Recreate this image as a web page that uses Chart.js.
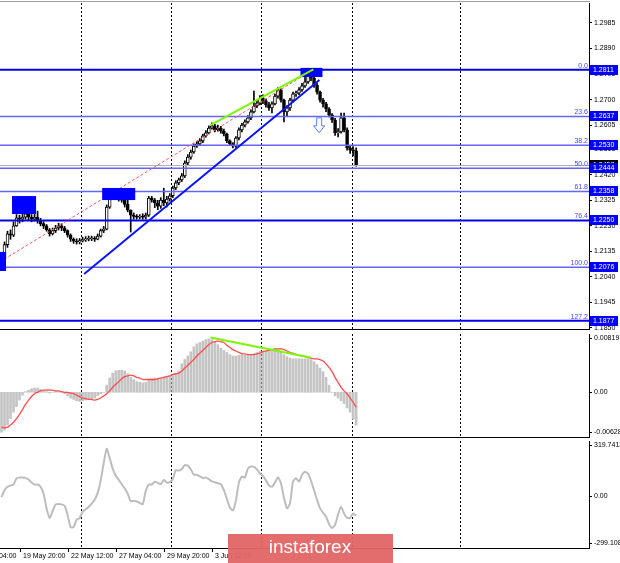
<!DOCTYPE html>
<html>
<head>
<meta charset="utf-8">
<script src="https://cdn.jsdelivr.net/npm/chart.js@4.4.1/dist/chart.umd.min.js"></script>
<style>
  html, body { margin: 0; padding: 0; background: #fff; }
  #wrap { position: relative; width: 620px; height: 563px; overflow: hidden; background: #fff; }
  canvas { position: absolute; left: 0; }
  #cMain { top: 0; }
  #cMacd { top: 330px; }
  #cCci { top: 438px; }
</style>
</head>
<body>
<div id="wrap">
  <canvas id="cMain" width="620" height="330"></canvas>
  <canvas id="cMacd" width="620" height="108"></canvas>
  <canvas id="cCci" width="620" height="125"></canvas>
</div>
<script>
// ---- data (GBP/USD H4) ----
const firstOpen = 1.2095;
const closes = [
  1.2110, 1.2160, 1.2200, 1.2195, 1.2230, 1.2260, 1.2255, 1.2262, 1.2275, 1.2262,
  1.2255, 1.2262, 1.2250, 1.2238, 1.2230, 1.2215, 1.2200, 1.2212, 1.2222, 1.2230,
  1.2222, 1.2212, 1.2196, 1.2180, 1.2173, 1.2170, 1.2175, 1.2178, 1.2180, 1.2182,
  1.2184, 1.2180, 1.2192, 1.2212, 1.2218, 1.2300, 1.2335, 1.2342, 1.2340, 1.2330,
  1.2326, 1.2310, 1.2288, 1.2270, 1.2265, 1.2262, 1.2266, 1.2262, 1.2270, 1.2333,
  1.2326, 1.2315, 1.2303, 1.2326, 1.2315, 1.2330, 1.2342, 1.2371, 1.2390, 1.2401,
  1.2416, 1.2464, 1.2486, 1.2505, 1.2527, 1.2535, 1.2546, 1.2565, 1.2576, 1.2594,
  1.2602, 1.2587, 1.2594, 1.2583, 1.2572, 1.2546, 1.2535, 1.2527, 1.2557, 1.2587,
  1.2605, 1.2617, 1.2632, 1.2654, 1.2676, 1.2687, 1.2706, 1.2695, 1.2680, 1.2669,
  1.2684, 1.2713, 1.2736, 1.2698, 1.2654, 1.2669, 1.2698, 1.2721, 1.2724, 1.2736,
  1.2751, 1.2766, 1.2795, 1.2780, 1.2754, 1.2728, 1.2698, 1.2684, 1.2665, 1.2643,
  1.2624, 1.2576, 1.2580, 1.2632, 1.2587, 1.2520, 1.2512, 1.2509, 1.2457
];
const highs = [
  1.2120, 1.2170, 1.2210, 1.2215, 1.2245, 1.2272, 1.2270, 1.2280, 1.2293, 1.2282,
  1.2272, 1.2275, 1.2285, 1.2258, 1.2245, 1.2235, 1.2220, 1.2222, 1.2232, 1.2240,
  1.2238, 1.2228, 1.2215, 1.2200, 1.2185, 1.2182, 1.2183, 1.2188, 1.2190, 1.2192,
  1.2192, 1.2190, 1.2200, 1.2218, 1.2228, 1.2308, 1.2342, 1.2352, 1.2350, 1.2345,
  1.2338, 1.2332, 1.2335, 1.2290, 1.2278, 1.2272, 1.2272, 1.2275, 1.2278, 1.2340,
  1.2340, 1.2332, 1.2325, 1.2335, 1.2370, 1.2340, 1.2350, 1.2378, 1.2398, 1.2408,
  1.2425, 1.2472, 1.2495, 1.2512, 1.2535, 1.2545, 1.2555, 1.2572, 1.2585, 1.2602,
  1.2613, 1.2608, 1.2605, 1.2600, 1.2590, 1.2575, 1.2550, 1.2540, 1.2562, 1.2595,
  1.2612, 1.2625, 1.2640, 1.2662, 1.2732, 1.2700, 1.2715, 1.2718, 1.2702, 1.2690,
  1.2692, 1.2720, 1.2745, 1.2740, 1.2702, 1.2678, 1.2705, 1.2728, 1.2732, 1.2745,
  1.2760, 1.2790, 1.2805, 1.2811, 1.2790, 1.2760, 1.2732, 1.2705, 1.2690, 1.2670,
  1.2648, 1.2630, 1.2592, 1.2650, 1.2650, 1.2595, 1.2530, 1.2525, 1.2520
];
const lows = [
  1.2076, 1.2100, 1.2150, 1.2180, 1.2190, 1.2228, 1.2240, 1.2245, 1.2255, 1.2250,
  1.2245, 1.2248, 1.2240, 1.2230, 1.2220, 1.2210, 1.2192, 1.2196, 1.2205, 1.2215,
  1.2212, 1.2205, 1.2188, 1.2172, 1.2165, 1.2162, 1.2163, 1.2170, 1.2172, 1.2174,
  1.2175, 1.2172, 1.2178, 1.2188, 1.2205, 1.2215, 1.2295, 1.2328, 1.2332, 1.2322,
  1.2318, 1.2300, 1.2282, 1.2207, 1.2255, 1.2255, 1.2256, 1.2255, 1.2255, 1.2265,
  1.2318, 1.2298, 1.2290, 1.2295, 1.2305, 1.2300, 1.2322, 1.2335, 1.2365, 1.2383,
  1.2395, 1.2410, 1.2458, 1.2478, 1.2500, 1.2522, 1.2530, 1.2540, 1.2560, 1.2572,
  1.2590, 1.2580, 1.2582, 1.2575, 1.2565, 1.2540, 1.2528, 1.2520, 1.2522, 1.2550,
  1.2580, 1.2598, 1.2612, 1.2625, 1.2650, 1.2670, 1.2680, 1.2685, 1.2672, 1.2660,
  1.2650, 1.2680, 1.2705, 1.2690, 1.2617, 1.2640, 1.2660, 1.2690, 1.2712, 1.2718,
  1.2730, 1.2745, 1.2760, 1.2770, 1.2745, 1.2720, 1.2690, 1.2672, 1.2655, 1.2635,
  1.2615, 1.2567, 1.2561, 1.2575, 1.2580, 1.2512, 1.2500, 1.2490, 1.2452
];

const macdHist = [
  -0.0056, -0.0053, -0.0046, -0.0037, -0.0028, -0.0020, -0.0011, -0.0004, 0.0001, 0.0003,
  0.0005, 0.0006, 0.0006, 0.0004, 0.0002, 0.0001, -0.0001, 0.0000, 0.0001, 0.0001,
  0.0000, -0.0002, -0.0005, -0.0008, -0.0010, -0.0012, -0.0013, -0.0012, -0.0011, -0.0010,
  -0.0009, -0.0008, -0.0005, -0.0002, 0.0000, 0.0010, 0.0020, 0.0027, 0.0030, 0.0031,
  0.0031, 0.0030, 0.0026, 0.0021, 0.0018, 0.0015, 0.0014, 0.0013, 0.0014, 0.0017,
  0.0019, 0.0020, 0.0020, 0.0020, 0.0021, 0.0021, 0.0023, 0.0025, 0.0027, 0.0030,
  0.0040, 0.0046, 0.0051, 0.0057, 0.0064, 0.0068, 0.0070, 0.0072, 0.0074, 0.0075,
  0.0074, 0.0071, 0.0067, 0.0062, 0.0059, 0.0056, 0.0053, 0.0051, 0.0051, 0.0052,
  0.0052, 0.0052, 0.0053, 0.0053, 0.0054, 0.0056, 0.0058, 0.0058, 0.0058, 0.0059,
  0.0060, 0.0061, 0.0060, 0.0057, 0.0053, 0.0050, 0.0048, 0.0047, 0.0047, 0.0047,
  0.0047, 0.0047, 0.0047, 0.0046, 0.0043, 0.0039, 0.0034, 0.0029, 0.0021, 0.0010,
  0.0000, -0.0005, -0.0008, -0.0012, -0.0016, -0.0022, -0.0028, -0.0038, -0.0046
];
const macdSignal = [
  -0.0049, -0.0050, -0.0049, -0.0046, -0.0042, -0.0037, -0.0031, -0.0024, -0.0017, -0.0011,
  -0.0006, -0.0002, 0.0000, 0.0002, 0.0003, 0.0003, 0.0003, 0.0003, 0.0002, 0.0002,
  0.0001, 0.0000, 0.0000, -0.0001, -0.0002, -0.0004, -0.0006, -0.0008, -0.0009, -0.0010,
  -0.0010, -0.0011, -0.0010, -0.0008, -0.0005, -0.0002, 0.0002, 0.0007, 0.0011, 0.0015,
  0.0019, 0.0022, 0.0023, 0.0024, 0.0023, 0.0021, 0.0020, 0.0018, 0.0018, 0.0018,
  0.0018, 0.0018, 0.0019, 0.0020, 0.0021, 0.0022, 0.0023, 0.0025, 0.0026, 0.0027,
  0.0030, 0.0034, 0.0038, 0.0042, 0.0046, 0.0051, 0.0055, 0.0059, 0.0063, 0.0067,
  0.0070, 0.0071, 0.0072, 0.0071, 0.0070, 0.0066, 0.0063, 0.0060, 0.0058, 0.0056,
  0.0054, 0.0054, 0.0053, 0.0053, 0.0053, 0.0054, 0.0055, 0.0057, 0.0058, 0.0059,
  0.0060, 0.0061, 0.0061, 0.0061, 0.0060, 0.0058, 0.0056, 0.0055, 0.0053, 0.0052,
  0.0051, 0.0050, 0.0049, 0.0048, 0.0047, 0.0047, 0.0046, 0.0044, 0.0040, 0.0035,
  0.0029, 0.0021, 0.0014, 0.0007, 0.0002, -0.0002, -0.0008, -0.0014, -0.0021
];
const cciValues = [
  -5, 35, 55, 62, 68, 104, 108, 108, 105, 96,
  80, 68, 68, 55, 15, -70, -125, -85, -48, -45,
  -47, -55, -110, -179, -178, -135, -126, -90, -75, -62,
  -42, -20, 20, 90, 190, 275, 220, 160, 120, 95,
  70, 45, 15, -29, -26, -30, -38, -46, 30, 68,
  68, 84, 78, 70, 95, 80, 82, 100, 152, 148,
  158, 180, 177, 155, 125, 125, 115, 106, 108, 99,
  86, 81, 75, 70, 35, -15, -65, -82, -25, 79,
  115, 108, 160, 172, 170, 155, 132, 118, 92, 62,
  55, 80, 110, 75, -10, -70, -40, 85, 105, 85,
  123, 142, 130, 90, 35, -20, -70, -95, -118, -160,
  -183, -165, -105, -60, -100, -125, -125, -100, -112
];

const priceTicks = [1.2985, 1.2890, 1.2795, 1.2700, 1.2605, 1.2515, 1.2420, 1.2325, 1.2230, 1.2135, 1.2040, 1.1945, 1.1850];
const fibRatios = ['0.0', '23.6', '38.2', '50.0', '61.8', '76.4', '100.0', '127.2'];
const fibPrices = [1.2811, 1.2637, 1.2530, 1.2444, 1.2358, 1.2250, 1.2076, 1.1877];
const macdRange = [-0.00628, 0.00819];
const cciRange = [-299.108, 319.7413];

const timeLabels = ['15 May 04:00', '19 May 20:00', '22 May 12:00', '27 May 04:00', '29 May 20:00', '3 Jun 12:00'];
const timeLabelBars = [-10, 6, 22, 38, 54, 70];
const gridBars = [26.5, 56.5, 86.5, 116.5, 152.5];

// drawn objects, as [bar, price] anchors
const trendSupport = [[27.5, 1.2051], [105.8, 1.2773]];
const trendTops = [[69.5, 1.2605], [103.8, 1.2812]];
const trendDashed = [[-0.5, 1.2096], [103.5, 1.2810]];
const zoneBoxes = [
  [[-0.5, 1.2133], [1.5, 1.2062]],
  [[3.5, 1.2341], [11.5, 1.2274]],
  [[33.5, 1.2371], [44.5, 1.2326]],
  [[99.5, 1.2818], [106.8, 1.2784]]
];
const arrowAnchor = [105.7, 1.2632];
const macdDivergence = [[69.5, 0.0077], [102.8, 0.0049]];

// ---- chart building ----
const barCount = 196;
const barLabels = Array.from({ length: barCount }, (_, i) => String(i));
const opens = closes.map((c, i) => (i === 0 ? firstOpen : closes[i - 1]));
const bodies = closes.map((c, i) => [opens[i], c]);
const wicks = closes.map((c, i) => [Math.min(lows[i], opens[i], c), Math.max(highs[i], opens[i], c)]);
const bodyFill = closes.map((c, i) => (c >= opens[i] ? '#ffffff' : '#000000'));
const lastPrice = closes[closes.length - 1];

const AXIS_FONT = '7px "Liberation Sans", Arial, sans-serif';
const heavyFib = ['0.0', '76.4', '127.2'];

Chart.defaults.font.family = '"Liberation Sans", Arial, sans-serif';

function xScale() {
  return { type: 'category', offset: true, display: false, grid: { display: false } };
}

function hiddenY(range) {
  return {
    position: 'right', min: range[0], max: range[1],
    afterFit(s) { s.width = 31; s.paddingTop = 0; s.paddingBottom = 0; },
    ticks: { display: false },
    grid: { display: false },
    border: { display: true, color: '#000' }
  };
}

function baseOptions(padding, y) {
  return {
    responsive: false, animation: false, devicePixelRatio: 1,
    layout: { padding },
    plugins: { legend: { display: false }, tooltip: { enabled: false } },
    scales: { x: xScale(), y }
  };
}

function drawGrid(chart) {
  const { ctx, chartArea: a, scales: { x } } = chart;
  ctx.save();
  ctx.strokeStyle = '#000';
  ctx.lineWidth = 1;
  ctx.setLineDash([2, 2]);
  gridBars.forEach(b => {
    const px = Math.round(x.getPixelForValue(b)) + 0.5;
    ctx.beginPath();
    ctx.moveTo(px, a.top);
    ctx.lineTo(px, a.bottom);
    ctx.stroke();
  });
  ctx.restore();
}

function segment(chart, p, q) {
  const { ctx, scales: { x, y } } = chart;
  ctx.beginPath();
  ctx.moveTo(x.getPixelForValue(p[0]), y.getPixelForValue(p[1]));
  ctx.lineTo(x.getPixelForValue(q[0]), y.getPixelForValue(q[1]));
  ctx.stroke();
}

function axisLabel(ctx, text, px, py, baseline) {
  ctx.fillStyle = '#000';
  ctx.font = AXIS_FONT;
  ctx.textAlign = 'left';
  ctx.textBaseline = baseline;
  ctx.fillText(text, px + 5, py);
  ctx.fillRect(px, Math.round(py) - (baseline === 'top' ? -3 : baseline === 'bottom' ? 4 : 0), 3, 1);
}

function priceTag(ctx, text, py, bg) {
  ctx.fillStyle = bg;
  ctx.fillRect(590, Math.round(py) - 5, 28, 10);
  ctx.fillStyle = '#fff';
  ctx.font = AXIS_FONT;
  ctx.textAlign = 'left';
  ctx.textBaseline = 'middle';
  ctx.fillText(text, 593, Math.round(py) + 0.5);
}

function separator(ctx, yTop) {
  ctx.fillStyle = '#000';
  ctx.fillRect(0, yTop, 590, 1);
  ctx.fillStyle = '#a0a0a0';
  ctx.fillRect(0, yTop + 1, 590, 2);
}

const mainOverlay = {
  id: 'mainOverlay',
  beforeDatasetsDraw(chart) { drawGrid(chart); },
  afterDatasetsDraw(chart) {
    const { ctx, chartArea: a, scales: { x, y } } = chart;
    ctx.save();
    // bid line
    ctx.strokeStyle = '#b0b0b0';
    ctx.lineWidth = 1;
    const by = Math.round(y.getPixelForValue(lastPrice)) + 0.5;
    ctx.beginPath(); ctx.moveTo(a.left, by); ctx.lineTo(a.right, by); ctx.stroke();
    // fibo levels
    fibPrices.forEach((p, i) => {
      const heavy = heavyFib.includes(fibRatios[i]);
      ctx.strokeStyle = heavy ? '#0000e6' : '#6464ff';
      ctx.lineWidth = heavy ? 2 : 1.5;
      const py = y.getPixelForValue(p);
      ctx.beginPath(); ctx.moveTo(a.left, py); ctx.lineTo(a.right, py); ctx.stroke();
    });
    // dashed channel line
    ctx.strokeStyle = '#ff5a5a';
    ctx.lineWidth = 1;
    ctx.setLineDash([3, 2]);
    segment(chart, trendDashed[0], trendDashed[1]);
    ctx.setLineDash([]);
    // zones
    ctx.fillStyle = '#0000ff';
    zoneBoxes.forEach(([p, q]) => {
      const x0 = x.getPixelForValue(p[0]), y0 = y.getPixelForValue(p[1]);
      const x1 = x.getPixelForValue(q[0]), y1 = y.getPixelForValue(q[1]);
      ctx.fillRect(x0, y0, x1 - x0, y1 - y0);
    });
    // trend lines
    ctx.lineWidth = 2;
    ctx.strokeStyle = '#0a14ff';
    segment(chart, trendSupport[0], trendSupport[1]);
    ctx.strokeStyle = '#7df500';
    segment(chart, trendTops[0], trendTops[1]);
    // down arrow
    const ax = x.getPixelForValue(arrowAnchor[0]);
    const ay = y.getPixelForValue(arrowAnchor[1]);
    const shape = [[-2.5, 0], [2.5, 0], [2.5, 8], [5.5, 8], [0, 15], [-5.5, 8], [-2.5, 8]];
    ctx.beginPath();
    shape.forEach(([dx, dy], k) => (k ? ctx.lineTo(ax + dx, ay + dy) : ctx.moveTo(ax + dx, ay + dy)));
    ctx.closePath();
    ctx.fillStyle = '#fff';
    ctx.fill();
    ctx.strokeStyle = '#5b7cff';
    ctx.lineWidth = 1;
    ctx.stroke();
    ctx.restore();
  },
  afterDraw(chart) {
    const { ctx, chartArea: a, scales: { y } } = chart;
    ctx.save();
    // frame
    ctx.fillStyle = '#a0a0a0';
    ctx.fillRect(0, 1, 590, 1);
    separator(ctx, 329);
    // fibo captions
    ctx.font = AXIS_FONT;
    ctx.textAlign = 'right';
    ctx.textBaseline = 'alphabetic';
    ctx.fillStyle = '#4646ff';
    fibPrices.forEach((p, i) => ctx.fillText(fibRatios[i], a.right - 1, y.getPixelForValue(p) - 2));
    // price tags
    priceTag(ctx, lastPrice.toFixed(4), y.getPixelForValue(lastPrice), '#000');
    fibPrices.forEach(p => priceTag(ctx, p.toFixed(4), y.getPixelForValue(p), '#0000ff'));
    ctx.restore();
  }
};

new Chart(document.getElementById('cMain'), {
  data: {
    labels: barLabels,
    datasets: [
      { type: 'bar', data: bodies, backgroundColor: bodyFill, borderColor: '#000', borderWidth: 1,
        borderSkipped: false, barThickness: 3, minBarLength: 1, grouped: false, order: 1 },
      { type: 'bar', data: wicks, backgroundColor: '#000', barThickness: 1, grouped: false, order: 2 }
    ]
  },
  options: baseOptions({ top: 3, left: 0, right: 0, bottom: 0 }, {
    position: 'right', min: 1.18424, max: 1.30594,
    afterFit(s) { s.width = 31; s.paddingTop = 0; s.paddingBottom = 0; },
    afterBuildTicks(s) { s.ticks = priceTicks.map(v => ({ value: v })); },
    ticks: { autoSkip: false, callback: v => Number(v).toFixed(4), color: '#000',
      font: { size: 7 }, padding: 2 },
    grid: { drawOnChartArea: false, drawTicks: true, tickLength: 3, color: '#000' },
    border: { display: true, color: '#000' }
  }),
  plugins: [mainOverlay]
});

const macdOverlay = {
  id: 'macdOverlay',
  beforeDatasetsDraw(chart) { drawGrid(chart); },
  afterDatasetsDraw(chart) {
    const { ctx } = chart;
    ctx.save();
    ctx.strokeStyle = '#7df500';
    ctx.lineWidth = 2;
    segment(chart, macdDivergence[0], macdDivergence[1]);
    ctx.restore();
  },
  afterDraw(chart) {
    const { ctx, chartArea: a, scales: { y } } = chart;
    ctx.save();
    axisLabel(ctx, macdRange[1].toFixed(5), a.right, a.top + 1, 'top');
    axisLabel(ctx, '0.00', a.right, y.getPixelForValue(0), 'middle');
    axisLabel(ctx, macdRange[0].toFixed(5), a.right, a.bottom - 1, 'bottom');
    separator(ctx, 107);
    ctx.restore();
  }
};

new Chart(document.getElementById('cMacd'), {
  data: {
    labels: barLabels,
    datasets: [
      { type: 'line', data: macdSignal, borderColor: '#ff4d4d', borderWidth: 1.3, pointRadius: 0, tension: 0.3, order: 1 },
      { type: 'bar', data: macdHist, backgroundColor: '#c4c4c4', barThickness: 2, order: 2 }
    ]
  },
  options: baseOptions({ top: 4, left: 0, right: 0, bottom: 1 }, hiddenY(macdRange)),
  plugins: [macdOverlay]
});

const cciOverlay = {
  id: 'cciOverlay',
  beforeDatasetsDraw(chart) { drawGrid(chart); },
  afterDraw(chart) {
    const { ctx, chartArea: a, scales: { x, y } } = chart;
    ctx.save();
    axisLabel(ctx, cciRange[1].toFixed(4), a.right, a.top + 1, 'top');
    axisLabel(ctx, '0.00', a.right, y.getPixelForValue(0), 'middle');
    axisLabel(ctx, cciRange[0].toFixed(3), a.right, a.bottom - 1, 'bottom');
    // bottom frame + time axis
    ctx.fillStyle = '#000';
    ctx.fillRect(0, Math.round(a.bottom), 590, 1);
    ctx.font = AXIS_FONT;
    ctx.textAlign = 'left';
    ctx.textBaseline = 'middle';
    timeLabels.forEach((t, i) => {
      const px = Math.round(x.getPixelForValue(timeLabelBars[i]));
      ctx.fillRect(px, Math.round(a.bottom) + 1, 1, 3);
      ctx.fillText(t, px + 3, a.bottom + 8);
    });
    // watermark
    ctx.fillStyle = 'rgba(226, 100, 100, 0.95)';
    ctx.fillRect(228, 96, 165, 29);
    ctx.fillStyle = '#fff';
    ctx.font = '19px "Liberation Sans", Arial, sans-serif';
    ctx.textAlign = 'center';
    ctx.textBaseline = 'middle';
    ctx.fillText('instaforex', 310, 110);
    ctx.restore();
  }
};

new Chart(document.getElementById('cCci'), {
  data: {
    labels: barLabels,
    datasets: [
      { type: 'line', data: cciValues, borderColor: '#bdbdbd', borderWidth: 2, pointRadius: 0, tension: 0.2 }
    ]
  },
  options: baseOptions({ top: 3, left: 0, right: 0, bottom: 15 }, hiddenY(cciRange)),
  plugins: [cciOverlay]
});
</script>
</body>
</html>
